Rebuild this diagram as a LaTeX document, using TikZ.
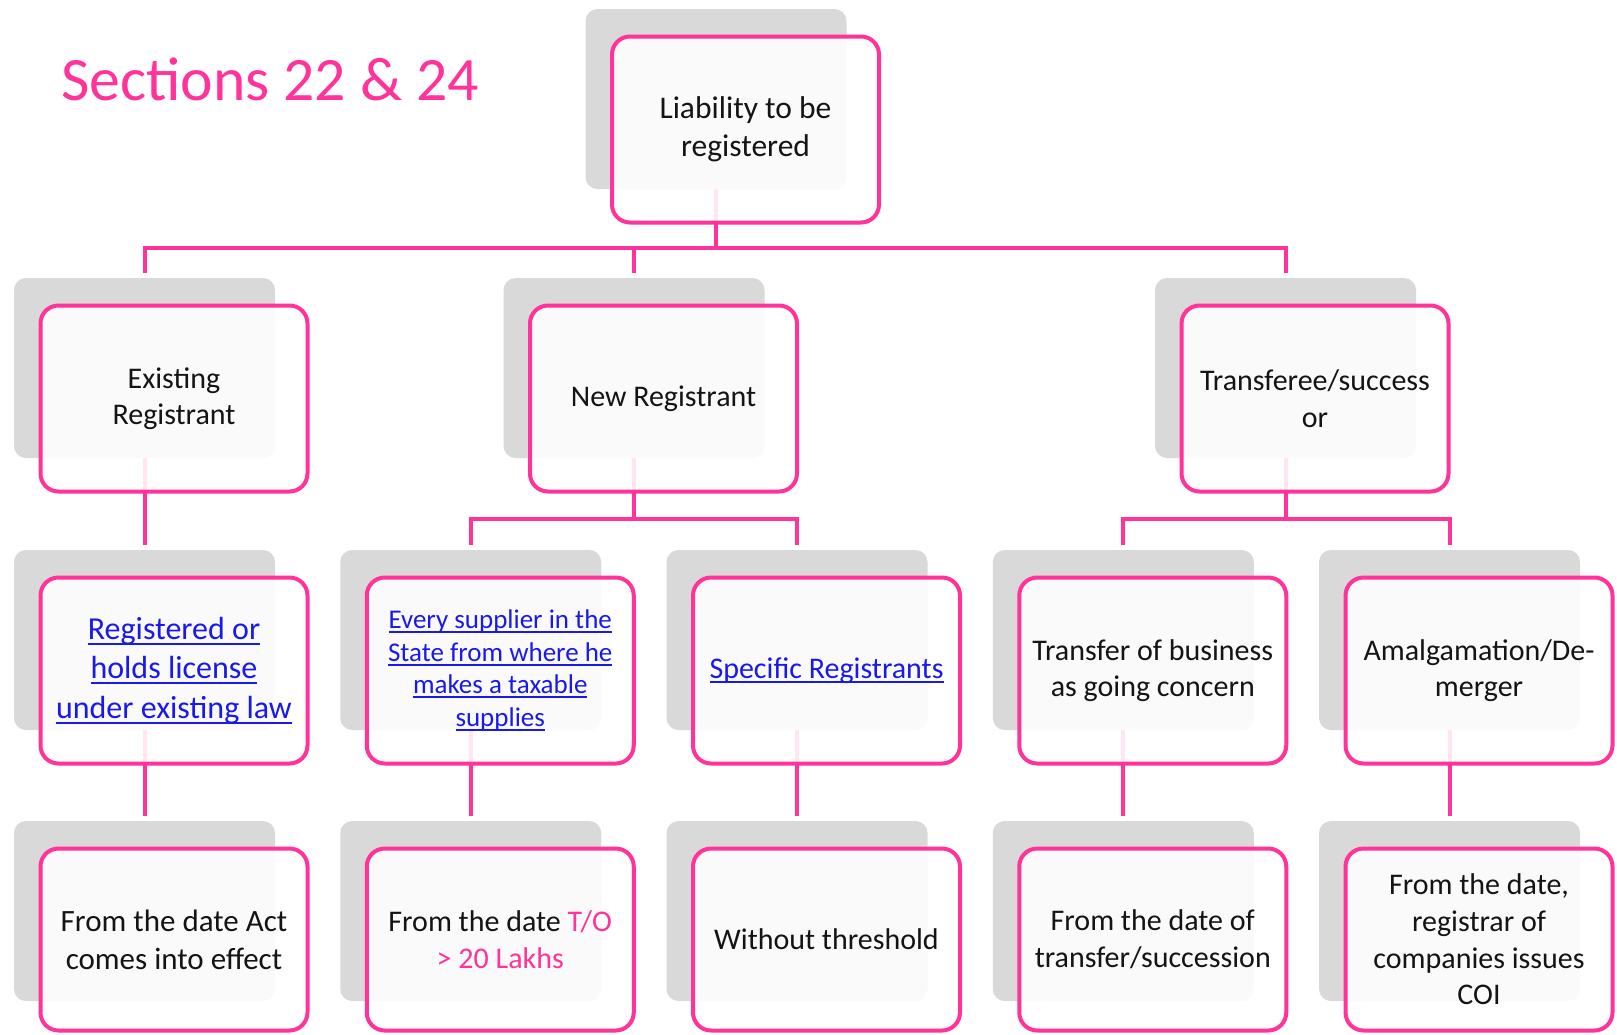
\documentclass[tikz,border=0pt]{standalone}
\usepackage{fontspec}
\setmainfont{Carlito}
\usetikzlibrary{calc}
\definecolor{pk}{RGB}{255,51,153}
\definecolor{shd}{RGB}{217,217,217}
\definecolor{lnk}{RGB}{25,25,235}
\definecolor{txt}{RGB}{20,20,20}
\newcommand\fsz[2]{\fontsize{#1pt}{#2pt}\selectfont}
\newcommand\lk[1]{\textcolor{lnk}{\setbox0\hbox{#1}\rlap{\rule[-0.17em]{\wd0}{2pt}}\box0}}
\begin{document}
\begin{tikzpicture}[x=1pt,y=-1pt,
  shadowbox/.style={fill=shd, rounded corners=12pt, minimum width=261pt, minimum height=180pt, inner sep=0pt},
  pinkbox/.style={draw=pk, line width=4pt, rounded corners=18pt, fill=white, fill opacity=0.88, text opacity=1,
    minimum width=267pt, minimum height=186pt, inner sep=2pt, align=center, text=txt, font=\fsz{30}{36.6}},
  lastrow/.style={minimum height=182pt},
  conn/.style={draw=pk, line width=4pt}]
\useasboundingbox (0,0) rectangle (1617,1034);
% shadows
\node[shadowbox] (top-s) at (716,99) {};
\node[shadowbox] (ex-s) at (144.5,368) {};
\node[shadowbox] (nr-s) at (634,368) {};
\node[shadowbox] (tr-s) at (1285.5,368) {};
\node[shadowbox] (a3-s) at (144.5,640) {};
\node[shadowbox] (b3-s) at (470.75,640) {};
\node[shadowbox] (c3-s) at (797,640) {};
\node[shadowbox] (d3-s) at (1123.25,640) {};
\node[shadowbox] (e3-s) at (1449.5,640) {};
\node[shadowbox] (a4-s) at (144.5,911) {};
\node[shadowbox] (b4-s) at (470.75,911) {};
\node[shadowbox] (c4-s) at (797,911) {};
\node[shadowbox] (d4-s) at (1123.25,911) {};
\node[shadowbox] (e4-s) at (1449.5,911) {};
% connectors
\coordinate (bar1) at (0,247.5);
\coordinate (bar2) at (0,519);
\draw[conn] (top-s.south) -- (top-s.south |- bar1);
\draw[conn, shorten <=5pt, shorten >=5pt] (ex-s.north) -- (ex-s.north |- bar1) -- (tr-s.north |- bar1) -- (tr-s.north);
\draw[conn, shorten >=5pt] (nr-s.north |- bar1) -- (nr-s.north);
\draw[conn, shorten >=5pt] (ex-s.south) -- (a3-s.north);
\draw[conn] (nr-s.south) -- (nr-s.south |- bar2);
\draw[conn, shorten <=5pt, shorten >=5pt] (b3-s.north) -- (b3-s.north |- bar2) -- (c3-s.north |- bar2) -- (c3-s.north);
\draw[conn] (tr-s.south) -- (tr-s.south |- bar2);
\draw[conn, shorten <=5pt, shorten >=5pt] (d3-s.north) -- (d3-s.north |- bar2) -- (e3-s.north |- bar2) -- (e3-s.north);
\draw[conn, shorten >=5pt] (a3-s.south) -- (a4-s.north);
\draw[conn, shorten >=5pt] (b3-s.south) -- (b4-s.north);
\draw[conn, shorten >=5pt] (c3-s.south) -- (c4-s.north);
\draw[conn, shorten >=5pt] (d3-s.south) -- (d4-s.north);
\draw[conn, shorten >=5pt] (e3-s.south) -- (e4-s.north);
% pink boxes
\node[pinkbox, font=\fsz{31.5}{38.5}] (top) at ([shift={(29.5,30.5)}]top-s.center) {Liability to be\\registered};
\node[pinkbox] (ex) at ([shift={(29.5,30.5)}]ex-s.center) {Existing\\Registrant};
\node[pinkbox] (nr) at ([shift={(29.5,30.5)}]nr-s.center) {New Registrant};
\node[pinkbox] (tr) at ([shift={(29.5,30.5)}]tr-s.center) {Transferee/success\\or};
\node[pinkbox, font=\fsz{32}{39.5}] (a3) at ([shift={(29.5,30.5)}]a3-s.center) {\lk{Registered or}\\\lk{holds license}\\\lk{under existing law}};
\node[pinkbox, font=\fsz{27}{32.5}] (b3) at ([shift={(29.5,30.5)}]b3-s.center) {\lk{Every supplier in the}\\\lk{State from where he}\\\lk{makes a taxable}\\\lk{supplies}};
\node[pinkbox] (c3) at ([shift={(29.5,30.5)}]c3-s.center) {\lk{Specific Registrants}};
\node[pinkbox] (d3) at ([shift={(29.5,30.5)}]d3-s.center) {Transfer of business\\as going concern};
\node[pinkbox] (e3) at ([shift={(29.5,30.5)}]e3-s.center) {Amalgamation/De-\\merger};
\node[pinkbox, lastrow, font=\fsz{31}{38}] (a4) at ([shift={(29.5,28.5)}]a4-s.center) {From the date Act\\comes into effect};
\node[pinkbox, lastrow] (b4) at ([shift={(29.5,28.5)}]b4-s.center) {From the date \textcolor{pk}{T/O}\\\textcolor{pk}{> 20 Lakhs}};
\node[pinkbox, lastrow] (c4) at ([shift={(29.5,28.5)}]c4-s.center) {Without threshold};
\node[pinkbox, lastrow] (d4) at ([shift={(29.5,28.5)}]d4-s.center) {From the date of\\transfer/succession};
\node[pinkbox, lastrow] (e4) at ([shift={(29.5,28.5)}]e4-s.center) {From the date,\\registrar of\\companies issues\\COI};
% title
\node[anchor=base west, inner sep=0pt, text=pk, font=\fsz{61.7}{70}] (title) at (61,100) {Sections 22 \& 24};
\end{tikzpicture}
\end{document}
